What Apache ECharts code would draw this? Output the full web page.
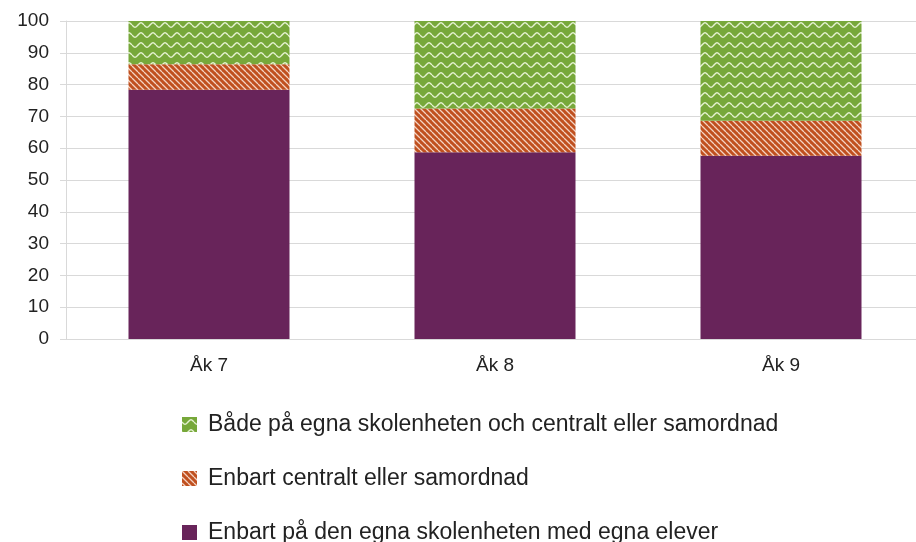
<!DOCTYPE html>
<html><head><meta charset="utf-8">
<script src="https://cdn.jsdelivr.net/npm/echarts@6/dist/echarts.min.js"></script>
<style>html,body{margin:0;padding:0;background:#fff}#c{width:916px;height:542px}</style>
</head><body><div id="c"></div>
<script>
const categories = ['Åk 7', 'Åk 8', 'Åk 9'];
const seriesNames = [
  'Enbart på den egna skolenheten med egna elever',
  'Enbart centralt eller samordnad',
  'Både på egna skolenheten och centralt eller samordnad'
];
const egnaValues = [78.4, 58.7, 57.6];
const centraltValues = [8.0, 13.8, 11.0];
const badaValues = [13.6, 27.5, 31.4];
const yTicks = [0, 10, 20, 30, 40, 50, 60, 70, 80, 90, 100];

function wavePattern() {
  const c = document.createElement('canvas');
  c.width = 12; c.height = 10;
  const ctx = c.getContext('2d');
  ctx.fillStyle = '#77A83A'; ctx.fillRect(0, 0, 12, 10);
  ctx.strokeStyle = '#e6f2d2'; ctx.lineWidth = 1.4;
  ctx.beginPath();
  for (let x = 0; x <= 12; x += 0.5) {
    const y = 5 + 2.2 * Math.sin(x / 12 * 2 * Math.PI);
    if (x === 0) ctx.moveTo(x, y); else ctx.lineTo(x, y);
  }
  ctx.stroke();
  return c;
}
function stripePattern() {
  const s = 6;
  const c = document.createElement('canvas');
  c.width = s; c.height = s;
  const ctx = c.getContext('2d');
  ctx.fillStyle = '#C0501F'; ctx.fillRect(0, 0, s, s);
  ctx.strokeStyle = '#f3d3c3'; ctx.lineWidth = 1.3;
  ctx.beginPath();
  for (const k of [-s, 0, s]) { ctx.moveTo(k, 0); ctx.lineTo(k + s, s); }
  ctx.stroke();
  return c;
}

const FONT = 'Liberation Sans, Arial, sans-serif';
const chart = echarts.init(document.getElementById('c'));
chart.setOption({
  animation: false,
  textStyle: { fontFamily: FONT },
  grid: { left: 66, right: -8, top: 21, bottom: 203, outerBoundsMode: 'none', containLabel: false },
  legend: {
    orient: 'vertical', left: 177, top: 408, height: 200,
    icon: 'rect', itemWidth: 15, itemHeight: 15, itemGap: 31,
    data: [seriesNames[2], seriesNames[1], seriesNames[0]],
    textStyle: { fontSize: 23, color: '#222', fontFamily: FONT, padding: [0, 0, 0, 6] }
  },
  xAxis: {
    type: 'category', data: categories,
    axisLine: { lineStyle: { color: '#d9d9d9' } },
    axisTick: { show: false },
    axisLabel: { fontSize: 19, color: '#222', margin: 17 }
  },
  yAxis: {
    type: 'value', min: 0, max: 100, interval: 10,
    axisLine: { show: true, lineStyle: { color: '#d9d9d9' } },
    axisTick: { show: true, length: 6, lineStyle: { color: '#d9d9d9' } },
    splitLine: { lineStyle: { color: '#d9d9d9' } },
    axisLabel: { fontSize: 19, color: '#222', margin: 17,
      formatter: v => yTicks.includes(v) ? String(v) : '' }
  },
  series: [
    { name: seriesNames[0], type: 'bar', stack: 's', barWidth: 161, data: egnaValues,
      itemStyle: { color: '#68245A' } },
    { name: seriesNames[1], type: 'bar', stack: 's', barWidth: 161, data: centraltValues,
      itemStyle: { color: { image: stripePattern(), repeat: 'repeat' } } },
    { name: seriesNames[2], type: 'bar', stack: 's', barWidth: 161, data: badaValues,
      itemStyle: { color: { image: wavePattern(), repeat: 'repeat' } } }
  ]
});
</script></body></html>
